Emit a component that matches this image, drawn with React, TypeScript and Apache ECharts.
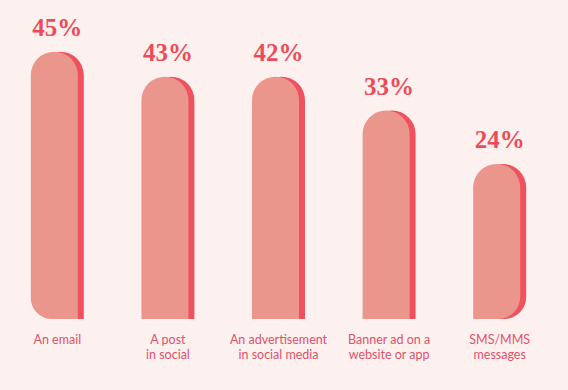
import React, { useEffect, useRef } from "react";
import * as echarts from "echarts";

const categories = [
  "An email",
  "A post\nin social",
  "An advertisement\nin social media",
  "Banner ad on a\nwebsite or app",
  "SMS/MMS\nmessages",
];
// Printed percentages (labels)
const percentages = [45, 43, 42, 33, 24];
// Drawn bar heights (same units as the axis)
const barLevels = [45, 40.8, 40.8, 35.1, 26.1];

export default function App() {
  const ref = useRef<HTMLDivElement>(null);

  useEffect(() => {
    document.body.style.margin = "0";
    if (!ref.current) return;
    const chart = echarts.init(ref.current, null, { renderer: "svg" });
    const n = categories.length;
    const option = {
      animation: false,
      backgroundColor: "#fcf1ef",
      grid: { left: 2, right: 13, top: 22, bottom: 71 },
      xAxis: {
        type: "category",
        data: categories,
        axisLine: { show: false },
        axisTick: { show: false },
        splitLine: { show: false },
        axisLabel: {
          color: "#e0526c",
          fontFamily: "Lato",
          fontSize: 12.5,
          lineHeight: 15,
          margin: 13,
          interval: 0,
        },
      },
      yAxis: { type: "value", min: 0, max: 50, show: false },
      series: [
        {
          type: "custom",
          encode: { x: 0, y: 1 },
          data: barLevels.map((v, i) => [i, v, percentages[i]]),
          renderItem: (params: any, api: any) => {
            const idx = api.value(0);
            const top = api.coord([idx, api.value(1)]);
            const base = api.coord([idx, 0]);
            const w = 47;
            const off = 6;
            const cx = top[0];
            const h = base[1] - top[1];
            const rt = w / 2;
            const bl = idx === 0 ? 21 : 0;
            const br = idx === n - 1 ? 22 : 0;
            const r = [rt, rt, br, bl];
            return {
              type: "group",
              children: [
                {
                  type: "rect",
                  shape: { x: cx - 3 - w / 2 + off, y: top[1], width: w, height: h, r },
                  style: { fill: "#ef525e" },
                },
                {
                  type: "rect",
                  shape: { x: cx - 3 - w / 2, y: top[1], width: w, height: h, r },
                  style: { fill: "#eb968c" },
                },
                {
                  type: "text",
                  x: cx,
                  y: top[1] - 12,
                  style: {
                    text: api.value(2) + "%",
                    textAlign: "center",
                    textVerticalAlign: "bottom",
                    fill: "#ee4b5a",
                    font: "bold 25px 'Liberation Serif'",
                  },
                },
              ],
            };
          },
        },
      ],
    };
    chart.setOption(option as any);
    return () => chart.dispose();
  }, []);

  return <div ref={ref} style={{ width: 568, height: 390 }} />;
}
